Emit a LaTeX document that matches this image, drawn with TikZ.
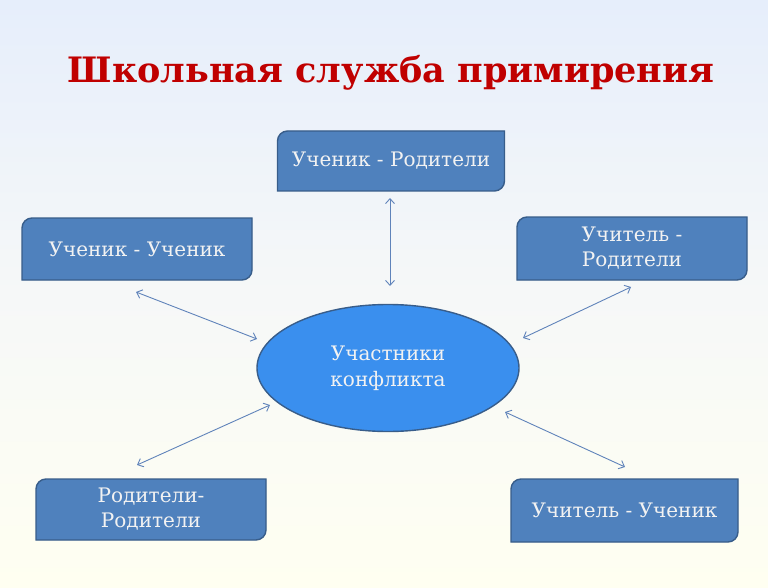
\documentclass[tikz,border=0pt]{standalone}
\usepackage{fontspec}
\setmainfont{DejaVu Serif}
\usetikzlibrary{arrows.meta,shapes.geometric}
\definecolor{bgtop}{HTML}{E6EEFB}
\definecolor{bgmid}{HTML}{F6F8F8}
\definecolor{bgbot}{HTML}{FFFFF1}
\definecolor{boxfill}{HTML}{4F81BD}
\definecolor{boxline}{HTML}{385D8A}
\definecolor{ellfill}{HTML}{3A8FEE}
\definecolor{arrowcol}{HTML}{5F83BA}
\definecolor{titlered}{HTML}{C00000}
\definecolor{boxtext}{HTML}{F2F2F2}
\pgfdeclarelayer{back}
\pgfdeclarelayer{boxes}
\pgfsetlayers{back,boxes,main}
\tikzset{
  boxnode/.style={rectangle, draw=none, outer sep=0pt, inner sep=0pt, align=center,
    text=boxtext, font=\fontsize{20}{25}\selectfont},
  link/.style={draw=arrowcol, line width=0.9pt, {Straight Barb[length=5pt,width=9pt]}-{Straight Barb[length=5pt,width=9pt]}},
  boxshape/.style={fill=boxfill, draw=boxline, line width=1.4pt},
  shadowshape/.style={fill=black, opacity=0.18},
}
\newcommand{\boxpath}[1]{([yshift=-10pt]#1.north west) arc[start angle=180,end angle=90,radius=10pt] -- (#1.north east) -- ([yshift=10pt]#1.south east) arc[start angle=0,end angle=-90,radius=10pt] -- (#1.south west) -- cycle}
\begin{document}
\begin{tikzpicture}[x=1pt,y=1pt]
\begin{pgfonlayer}{back}
\shade[top color=bgtop, bottom color=bgbot, middle color=bgmid] (0,0) rectangle (768,-588);
\end{pgfonlayer}
\useasboundingbox (0,0) rectangle (768,-588);

\node[anchor=base, text=titlered, font=\bfseries\fontsize{35}{40}\selectfont] (title) at (391,-83) {Школьная служба примирения};

% boxes
\node[boxnode, minimum width=227pt, minimum height=60pt] (ur) at (391,-161) {Ученик - Родители};
\node[boxnode, minimum width=230pt, minimum height=62pt] (uu) at (137,-249) {Ученик - Ученик};
\node[boxnode, minimum width=230pt, minimum height=63pt] (tr) at (632,-248.5) {Учитель -\\Родители};
\node[boxnode, minimum width=230pt, minimum height=61pt] (rr) at (151,-509.5) {Родители-\\Родители};
\node[boxnode, minimum width=227pt, minimum height=63pt] (tu) at (624.5,-510.5) {Учитель - Ученик};

\begin{pgfonlayer}{boxes}
\foreach \n in {ur,uu,tr,rr,tu}{
  \fill[shadowshape, xshift=1pt, yshift=-2.5pt] \boxpath{\n};
  \path[boxshape] \boxpath{\n};
}
\end{pgfonlayer}

% central ellipse
\node[ellipse, fill=ellfill, draw=boxline, line width=1.4pt, minimum width=262pt, minimum height=127pt,
      inner sep=0pt, align=center, text=boxtext, font=\fontsize{20}{26}\selectfont] (c) at (388,-368)
      {Участники\\конфликта};

% connector end points
\coordinate (a1s) at (390,-198); \coordinate (a1e) at (390,-286);
\coordinate (a2s) at (136,-292); \coordinate (a2e) at (257,-339);
\coordinate (a3s) at (631,-287); \coordinate (a3e) at (523,-338);
\coordinate (a4s) at (137,-465); \coordinate (a4e) at (270,-405);
\coordinate (a5s) at (625,-467); \coordinate (a5e) at (505,-412);

\draw[link] (a1s) -- (a1e);
\draw[link] (a2s) -- (a2e);
\draw[link] (a3s) -- (a3e);
\draw[link] (a4s) -- (a4e);
\draw[link] (a5s) -- (a5e);
\end{tikzpicture}
\end{document}
